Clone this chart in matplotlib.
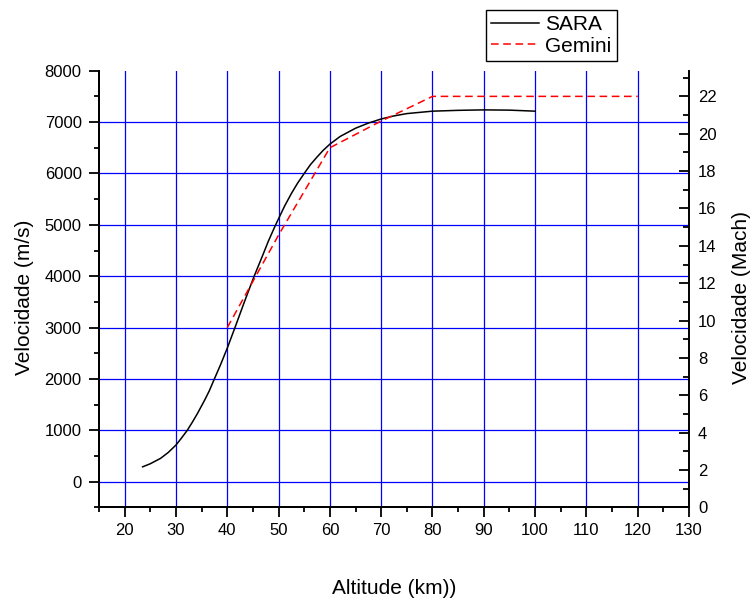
import matplotlib
matplotlib.use("Agg")
import matplotlib.pyplot as plt
from matplotlib.ticker import MultipleLocator

plt.rcParams["font.family"] = ["Liberation Sans", "DejaVu Sans"]

# SARA re-entry trajectory: altitude (km) vs velocity (m/s)
sara_alt = [23.5, 25, 27, 28.5, 30, 31, 32.2, 33.2, 34.2, 35.6, 36.5, 37.4,
            38.7, 40, 41.5, 43.3, 45.2, 47, 48, 49.2, 50, 51.2, 52.5, 53.7,
            55, 56.2, 57.5, 58.7, 60, 62, 65, 67.5, 70, 72.5, 75, 80, 85, 90,
            95, 100]
sara_vel = [290, 350, 455, 570, 714, 840, 1000, 1160, 1330, 1590, 1770, 1980,
            2280, 2600, 3000, 3490, 3990, 4430, 4680, 4950, 5120, 5370, 5610,
            5810, 6000, 6170, 6320, 6450, 6570, 6720, 6880, 6980, 7060, 7120,
            7165, 7212, 7228, 7237, 7232, 7212]

# Gemini reference profile
gemini_alt = [40, 50, 60, 70, 80, 90, 100, 110, 120]
gemini_vel = [3000, 4800, 6500, 7020, 7500, 7500, 7500, 7500, 7500]

x_ticks = list(range(20, 131, 10))
y_ticks = list(range(0, 8001, 1000))
mach_ticks = list(range(0, 23, 2))

fig = plt.figure(figsize=(7.5, 6.01), dpi=100)
ax = fig.add_axes([0.132, 0.1557, 0.7867, 0.7267])
ax2 = ax.twinx()

# blue grid drawn under the curves
for x in x_ticks[:-1]:
    ax.axvline(x, color="#0000FF", lw=0.9, zorder=1)
for y in y_ticks[:-1]:
    ax.axhline(y, color="#0000FF", lw=0.9, zorder=1)

l1, = ax.plot(sara_alt, sara_vel, color="black", lw=1.1, zorder=3, label="SARA")
l2, = ax.plot(gemini_alt, gemini_vel, color="red", lw=1.1, dashes=(5, 3),
              zorder=3, label="Gemini")

ax.set_xlim(15, 130)
ax.set_ylim(-500, 8000)
ax2.set_ylim(0, 23.375)

ax.set_xticks(x_ticks)
ax.set_yticks(y_ticks)
ax.xaxis.set_minor_locator(MultipleLocator(5))
ax.yaxis.set_minor_locator(MultipleLocator(500))
ax2.set_yticks(mach_ticks)
ax2.yaxis.set_minor_locator(MultipleLocator(1))

for a in (ax, ax2):
    a.spines["top"].set_visible(False)
    for s in a.spines.values():
        s.set_linewidth(1.4)
ax.spines["right"].set_visible(False)

ax.tick_params(axis="both", which="major", direction="out", length=7,
               width=1.3, labelsize=12, pad=4.5)
ax.tick_params(axis="both", which="minor", direction="out", length=3.5, width=1.3)
ax.tick_params(axis="y", which="major", pad=5.5)
ax2.tick_params(axis="y", which="major", direction="in", length=7, width=1.3,
                labelsize=12, pad=6.5)
ax2.tick_params(axis="y", which="minor", direction="in", length=4, width=1.3)

ax.set_xlabel("Altitude (km))", fontsize=15)
ax.set_ylabel("Velocidade (m/s)", fontsize=15)
ax2.set_ylabel("Velocidade (Mach)", fontsize=15)
ax.xaxis.set_label_coords(0.5, -0.165)
ax.yaxis.set_label_coords(-0.11, 0.48)
ax2.yaxis.set_label_coords(1.072, 0.48)

leg = fig.legend(handles=[l1, l2], loc="upper left",
                 bbox_to_anchor=(0.648, 0.983), fontsize=15, fancybox=False,
                 framealpha=1, edgecolor="black", handlelength=2.3,
                 handletextpad=0.3, labelspacing=0.1, borderpad=0.25,
                 borderaxespad=0)
leg.get_frame().set_linewidth(1.0)

fig.savefig("out.png", dpi=100)
